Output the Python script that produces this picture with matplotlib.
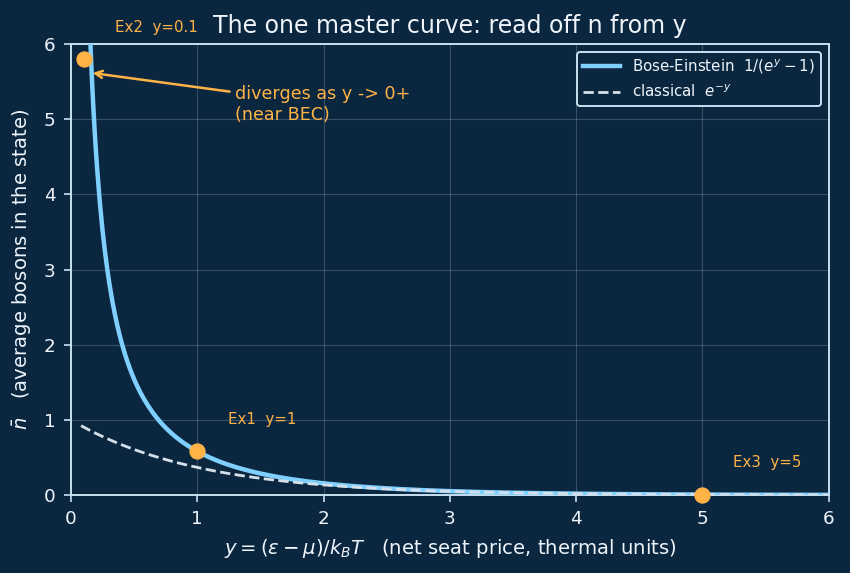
import numpy as np
import matplotlib
matplotlib.use("Agg")
import matplotlib.pyplot as plt

# data
y_grid = np.linspace(0.08, 6.0, 600)
be_curve = 1.0 / (np.exp(y_grid) - 1.0)
cl_curve = np.exp(-y_grid)
ex_labels = ["Ex2  y=0.1", "Ex1  y=1", "Ex3  y=5"]
ex_y = [0.1, 1.0, 5.0]
ex_n = [5.8, 0.582, 0.0068]
x_ticks = [0, 1, 2, 3, 4, 5, 6]
y_ticks = [0, 1, 2, 3, 4, 5, 6]

BG = "#0b2740"
FG = "#eef4fa"
SP = "#c8e0f0"
BLUE = "#7fd0ff"
DASH = "#d5e0ea"
ORANGE = "#ffb347"

fig = plt.figure(figsize=(8.5, 5.73), dpi=100, facecolor=BG)
ax = fig.add_axes([0.0835, 0.136, 0.8915, 0.787])
ax.set_facecolor(BG)

ax.plot(y_grid, be_curve, color=BLUE, lw=3.2, label=r"Bose-Einstein  $1/(e^{y}-1)$", zorder=3)
ax.plot(y_grid, cl_curve, color=DASH, lw=2.0, ls="--", label=r"classical  $e^{-y}$", zorder=3)
ax.scatter(ex_y, ex_n, s=115, color=ORANGE, zorder=5, clip_on=False)

for lab, xv, nv in zip(ex_labels, ex_y, ex_n):
    ax.annotate(lab, xy=(xv, nv), xytext=(31, 32), textcoords="offset pixels",
                color=ORANGE, fontsize=10.8, ha="left", va="center", annotation_clip=False)

ax.annotate("diverges as y -> 0+\n(near BEC)", xy=(0.15, 5.62), xytext=(1.3, 5.2),
            color=ORANGE, fontsize=12.6, ha="left", va="center",
            arrowprops=dict(arrowstyle="->", color=ORANGE, lw=1.8))

ax.set_xlim(0, 6)
ax.set_ylim(0, 6)
ax.set_xticks(x_ticks)
ax.set_yticks(y_ticks)
ax.grid(True, color="#9fb8cc", alpha=0.28, lw=0.8)
ax.set_axisbelow(True)
for s in ax.spines.values():
    s.set_color(SP)
    s.set_linewidth(1.4)
ax.tick_params(colors=SP, labelcolor=FG, labelsize=13.2, length=5, width=1.2, pad=6)

ax.set_xlabel(r"$y = (\varepsilon - \mu)/k_BT$   (net seat price, thermal units)", color=FG, fontsize=14.1, labelpad=6)
ax.set_ylabel(r"$\bar{n}$   (average bosons in the state)", color=FG, fontsize=14.1, labelpad=8)
ax.set_title("The one master curve: read off n from y", color=FG, fontsize=17, pad=8)

leg = ax.legend(loc="upper right", fontsize=10.8, facecolor=BG, edgecolor=SP, framealpha=1,
                labelcolor=FG, handlelength=2.5, borderaxespad=0.5)
leg.get_frame().set_linewidth(1.4)

fig.savefig("out.png", facecolor=BG)
